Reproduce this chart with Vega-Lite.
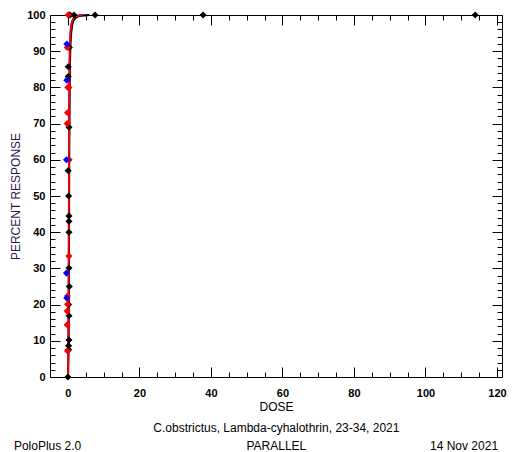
{
  "$schema": "https://vega.github.io/schema/vega-lite/v6.json",
  "width": 452,
  "height": 362,
  "autosize": {"type": "none"},
  "padding": {"left": 50, "top": 15, "right": 10, "bottom": 75},
  "background": "white",
  "config": {
    "view": {"stroke": "#000000", "strokeWidth": 1},
    "axis": {"grid": false, "domain": false, "tickColor": "#000000", "tickWidth": 1, "labelFont": "Liberation Sans", "labelFontSize": 11, "labelFontWeight": "bold", "labelColor": "#000000", "titleFont": "Liberation Sans", "titleFontSize": 12, "titleFontWeight": "normal", "titleColor": "#000000"}
  },
  "datasets": {
    "fits": [
      {"series": "blue", "dose": 0.0, "pct": 0},
      {"series": "blue", "dose": 0.15, "pct": 10},
      {"series": "blue", "dose": 0.25, "pct": 40},
      {"series": "blue", "dose": 0.32, "pct": 60},
      {"series": "blue", "dose": 0.42, "pct": 80},
      {"series": "blue", "dose": 0.6, "pct": 92},
      {"series": "blue", "dose": 1.0, "pct": 97.5},
      {"series": "blue", "dose": 2.0, "pct": 99.5},
      {"series": "blue", "dose": 4.0, "pct": 100},
      {"series": "grey", "dose": 0.35, "pct": 80},
      {"series": "grey", "dose": 0.7, "pct": 93},
      {"series": "grey", "dose": 1.5, "pct": 98},
      {"series": "grey", "dose": 3.0, "pct": 99.6},
      {"series": "grey", "dose": 6.0, "pct": 100},
      {"series": "black", "dose": 0.1, "pct": 0},
      {"series": "black", "dose": 0.2, "pct": 8},
      {"series": "black", "dose": 0.3, "pct": 25},
      {"series": "black", "dose": 0.36, "pct": 45},
      {"series": "black", "dose": 0.42, "pct": 62},
      {"series": "black", "dose": 0.5, "pct": 76},
      {"series": "black", "dose": 0.65, "pct": 88},
      {"series": "black", "dose": 0.95, "pct": 95},
      {"series": "black", "dose": 1.6, "pct": 98.6},
      {"series": "black", "dose": 3.0, "pct": 99.7},
      {"series": "black", "dose": 6.0, "pct": 100},
      {"series": "red", "dose": 0.05, "pct": 0},
      {"series": "red", "dose": 0.15, "pct": 10},
      {"series": "red", "dose": 0.25, "pct": 40},
      {"series": "red", "dose": 0.32, "pct": 62},
      {"series": "red", "dose": 0.42, "pct": 80},
      {"series": "red", "dose": 0.58, "pct": 92},
      {"series": "red", "dose": 1.0, "pct": 97.6},
      {"series": "red", "dose": 2.0, "pct": 99.5},
      {"series": "red", "dose": 4.0, "pct": 100}
    ],
    "obs": [
      {"series": "black", "dose": 0.3, "pct": 100},
      {"series": "black", "dose": 0.6, "pct": 100},
      {"series": "black", "dose": 1.7, "pct": 100},
      {"series": "black", "dose": 7.6, "pct": 100},
      {"series": "black", "dose": 37.8, "pct": 100},
      {"series": "black", "dose": 113.9, "pct": 100},
      {"series": "black", "dose": 0.4, "pct": 91},
      {"series": "black", "dose": 0.1, "pct": 85.7},
      {"series": "black", "dose": 0.1, "pct": 83},
      {"series": "black", "dose": 0.3, "pct": 69},
      {"series": "black", "dose": 0.3, "pct": 60},
      {"series": "black", "dose": 0.1, "pct": 57},
      {"series": "black", "dose": 0.2, "pct": 50},
      {"series": "black", "dose": 0.3, "pct": 44.5},
      {"series": "black", "dose": 0.3, "pct": 43},
      {"series": "black", "dose": 0.3, "pct": 40},
      {"series": "black", "dose": 0.3, "pct": 30.1},
      {"series": "black", "dose": 0.4, "pct": 25},
      {"series": "black", "dose": 0.2, "pct": 20},
      {"series": "black", "dose": 0.3, "pct": 16.9},
      {"series": "black", "dose": 0.3, "pct": 10.2},
      {"series": "black", "dose": 0.2, "pct": 8.6},
      {"series": "black", "dose": 0.2, "pct": 7.5},
      {"series": "black", "dose": 0.0, "pct": 0},
      {"series": "red", "dose": 0.1, "pct": 100},
      {"series": "red", "dose": -0.2, "pct": 91},
      {"series": "red", "dose": 0.3, "pct": 80},
      {"series": "red", "dose": 0.0, "pct": 80},
      {"series": "red", "dose": -0.1, "pct": 73},
      {"series": "red", "dose": -0.2, "pct": 70},
      {"series": "red", "dose": 0.2, "pct": 60},
      {"series": "red", "dose": 0.3, "pct": 33.4},
      {"series": "red", "dose": -0.1, "pct": 22.4},
      {"series": "red", "dose": -0.1, "pct": 20.1},
      {"series": "red", "dose": -0.2, "pct": 18.2},
      {"series": "red", "dose": -0.2, "pct": 14.4},
      {"series": "red", "dose": -0.1, "pct": 7.2},
      {"series": "blue", "dose": -0.3, "pct": 92},
      {"series": "blue", "dose": -0.3, "pct": 82},
      {"series": "blue", "dose": -0.4, "pct": 60},
      {"series": "blue", "dose": -0.4, "pct": 28.7},
      {"series": "blue", "dose": -0.3, "pct": 21.8}
    ],
    "footer": [
      {"label": "C.obstrictus, Lambda-cyhalothrin, 23-34, 2021"},
      {"label": "PoloPlus 2.0"},
      {"label": "PARALLEL"},
      {"label": "14 Nov 2021"}
    ]
  },
  "resolve": {"axis": {"x": "independent", "y": "independent"}},
  "layer": [
    {
      "data": {"name": "fits"},
      "mark": {"type": "line", "strokeWidth": 1.8, "interpolate": "monotone"},
      "encoding": {
        "x": {"field": "dose", "type": "quantitative", "scale": {"domain": [-5, 121.4], "nice": false, "zero": false},
              "axis": {"orient": "bottom", "values": [0, 20, 40, 60, 80, 100, 120], "tickSize": -10, "labelPadding": 20, "title": "DOSE", "titlePadding": 3}},
        "y": {"field": "pct", "type": "quantitative", "scale": {"domain": [0, 100], "nice": false, "zero": false},
              "axis": {"orient": "left", "values": [0, 10, 20, 30, 40, 50, 60, 70, 80, 90, 100], "tickSize": -10, "labelPadding": 15, "title": "PERCENT RESPONSE", "titleColor": "#2a1650", "titlePadding": 4}},
        "color": {"field": "series", "type": "nominal", "scale": {"domain": ["black", "red", "blue", "grey"], "range": ["#000000", "#ff0000", "#0000ff", "#808080"]}, "legend": null},
        "order": {"field": "series"}
      }
    },
    {
      "data": {"name": "obs"},
      "mark": {"type": "point", "shape": "diamond", "filled": true, "size": 50, "opacity": 1},
      "encoding": {
        "x": {"field": "dose", "type": "quantitative", "scale": {"domain": [-5, 121.4], "nice": false, "zero": false},
              "axis": {"orient": "bottom", "values": [0, 5, 10, 15, 25, 30, 35, 45, 50, 55, 65, 70, 75, 85, 90, 95, 105, 110, 115], "tickSize": -5, "labels": false, "title": null}},
        "y": {"field": "pct", "type": "quantitative", "scale": {"domain": [0, 100], "nice": false, "zero": false},
              "axis": {"orient": "left", "values": [2, 4, 6, 8, 12, 14, 16, 18, 22, 24, 26, 28, 32, 34, 36, 38, 42, 44, 46, 48, 52, 54, 56, 58, 62, 64, 66, 68, 72, 74, 76, 78, 82, 84, 86, 88, 92, 94, 96, 98], "tickSize": -5, "labels": false, "title": null}},
        "color": {"field": "series", "type": "nominal", "scale": {"domain": ["black", "red", "blue", "grey"], "range": ["#000000", "#ff0000", "#0000ff", "#808080"]}, "legend": null}
      }
    },
    {
      "data": {"name": "obs"},
      "mark": {"type": "point", "opacity": 0},
      "encoding": {
        "x": {"field": "dose", "type": "quantitative", "scale": {"domain": [-5, 121.4], "nice": false, "zero": false},
              "axis": {"orient": "top", "values": [0, 20, 40, 60, 80, 100, 120], "tickSize": -10, "labels": false, "title": null}},
        "y": {"field": "pct", "type": "quantitative", "scale": {"domain": [0, 100], "nice": false, "zero": false},
              "axis": {"orient": "right", "values": [0, 10, 20, 30, 40, 50, 60, 70, 80, 90, 100], "tickSize": -10, "labels": false, "title": null}}
      }
    },
    {
      "data": {"name": "obs"},
      "mark": {"type": "point", "opacity": 0},
      "encoding": {
        "x": {"field": "dose", "type": "quantitative", "scale": {"domain": [-5, 121.4], "nice": false, "zero": false},
              "axis": {"orient": "top", "values": [0, 5, 10, 15, 25, 30, 35, 45, 50, 55, 65, 70, 75, 85, 90, 95, 105, 110, 115], "tickSize": -5, "labels": false, "title": null}},
        "y": {"field": "pct", "type": "quantitative", "scale": {"domain": [0, 100], "nice": false, "zero": false},
              "axis": {"orient": "right", "values": [2, 4, 6, 8, 12, 14, 16, 18, 22, 24, 26, 28, 32, 34, 36, 38, 42, 44, 46, 48, 52, 54, 56, 58, 62, 64, 66, 68, 72, 74, 76, 78, 82, 84, 86, 88, 92, 94, 96, 98], "tickSize": -5, "labels": false, "title": null}}
      }
    },
    {
      "data": {"name": "footer"},
      "transform": [{"filter": "datum.label === 'C.obstrictus, Lambda-cyhalothrin, 23-34, 2021'"}],
      "mark": {"type": "text", "align": "center", "baseline": "middle", "font": "Liberation Sans", "fontSize": 12, "color": "#000000"},
      "encoding": {
        "x": {"datum": 58.3, "type": "quantitative", "axis": null},
        "y": {"datum": -14.2, "type": "quantitative", "axis": null},
        "text": {"field": "label"}
      }
    },
    {
      "data": {"name": "footer"},
      "transform": [{"filter": "datum.label === 'PoloPlus 2.0'"}],
      "mark": {"type": "text", "align": "left", "baseline": "middle", "font": "Liberation Sans", "fontSize": 12, "color": "#000000"},
      "encoding": {
        "x": {"datum": -15.1, "type": "quantitative", "axis": null},
        "y": {"datum": -19.0, "type": "quantitative", "axis": null},
        "text": {"field": "label"}
      }
    },
    {
      "data": {"name": "footer"},
      "transform": [{"filter": "datum.label === 'PARALLEL'"}],
      "mark": {"type": "text", "align": "center", "baseline": "middle", "font": "Liberation Sans", "fontSize": 12, "color": "#000000"},
      "encoding": {
        "x": {"datum": 58.3, "type": "quantitative", "axis": null},
        "y": {"datum": -19.0, "type": "quantitative", "axis": null},
        "text": {"field": "label"}
      }
    },
    {
      "data": {"name": "footer"},
      "transform": [{"filter": "datum.label === '14 Nov 2021'"}],
      "mark": {"type": "text", "align": "right", "baseline": "middle", "font": "Liberation Sans", "fontSize": 12, "color": "#000000"},
      "encoding": {
        "x": {"datum": 120.3, "type": "quantitative", "axis": null},
        "y": {"datum": -19.0, "type": "quantitative", "axis": null},
        "text": {"field": "label"}
      }
    }
  ]
}
